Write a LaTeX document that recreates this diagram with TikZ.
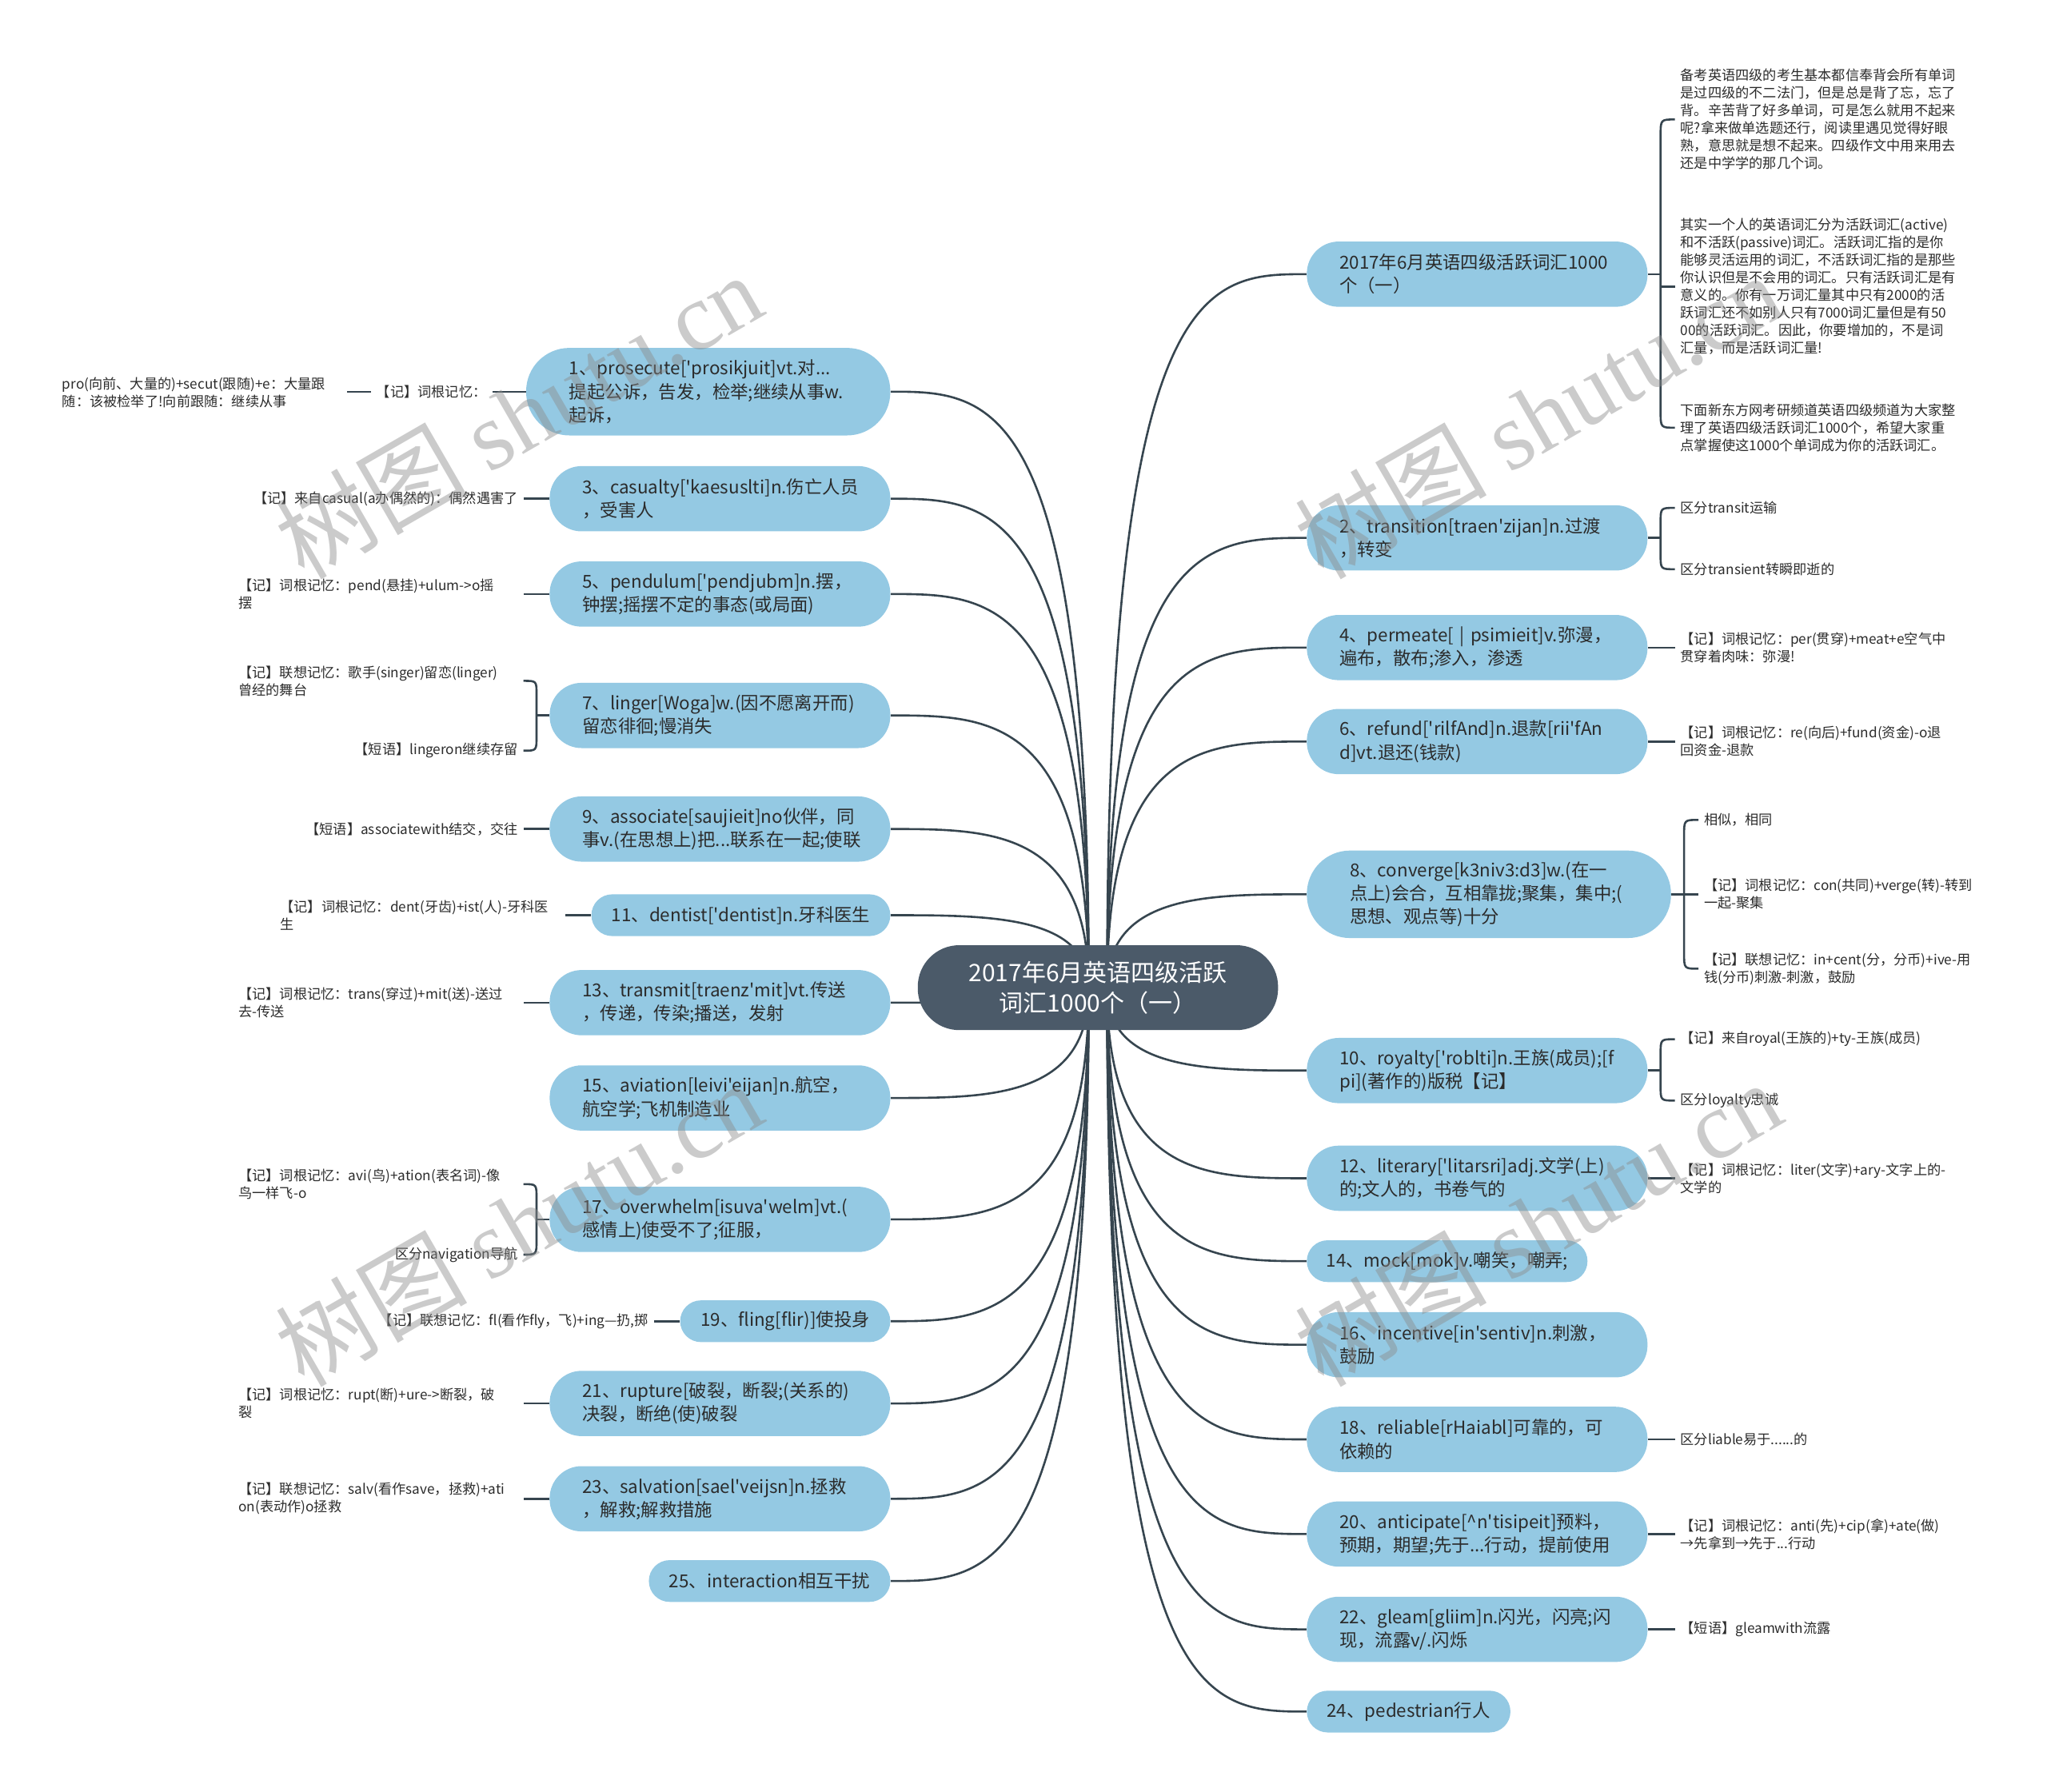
\documentclass[tikz,border=0pt]{standalone}
\usepackage{fontspec}
\setmainfont[Ligatures=TeXOff]{Noto Sans CJK SC}
\newfontfamily\wmlatin{Liberation Serif}
\usetikzlibrary{calc}
\definecolor{nodeblue}{HTML}{94C9E3}
\definecolor{hubfill}{HTML}{4B5A69}
\definecolor{linecol}{HTML}{36454F}
\definecolor{txtcol}{HTML}{2B2B2B}
\pgfdeclarelayer{bg}
\pgfsetlayers{bg,main}
\tikzset{
  hub/.style={fill=hubfill, text=white, rounded corners=26pt, minimum width=225.3pt, minimum height=53.1pt, align=center, inner sep=0pt, font=\fontsize{15pt}{19pt}\selectfont},
  leaf/.style={fill=nodeblue, text=txtcol, inner ysep=0pt, font=\fontsize{11.2pt}{14.6pt}\selectfont},
  two/.style={leaf, text width=172.2pt, inner xsep=20.4pt, align=left, minimum height=40.8pt, rounded corners=20pt},
  three/.style={leaf, text width=173.9pt, inner xsep=26.9pt, align=left, minimum height=54.7pt, rounded corners=27pt},
  one/.style={leaf, minimum height=26.1pt, rounded corners=13pt, inner xsep=0pt, minimum width=#1},
  note/.style={text=txtcol, inner xsep=3.3pt, inner ysep=1pt, align=left, font=\fontsize{8.6pt}{11pt}\selectfont},
  wrapnote/.style={note, text width=174.7pt},
  conn/.style={draw=linecol, line width=1.3pt},
  hubconn/.style={conn, to path={let \p1=(\tikztostart), \p2=(\tikztotarget) in .. controls (\x1,\y2) and ($(\x1,\y2)!0.5!(\x2,\y2)$) .. (\tikztotarget)}},
  wm/.style={text=black!45, opacity=0.45, rotate=30, inner sep=0pt, font=\fontsize{60pt}{60pt}\selectfont},
}
\begin{document}
\exhyphenpenalty=10000
\hyphenpenalty=10000
\begin{tikzpicture}[x=0.8163pt, y=-0.8163pt]
\useasboundingbox (0,0) rectangle (1568,1372.6);

% hub
\node[hub] (c) at (841,756.5) {2017年6月英语四级活跃\\词汇1000个（一）};
\coordinate (hubR) at (848,757);
\coordinate (hubL) at (834,757);

% right main nodes
\node[two] (R1) at (1131.5,210) {2017年6月英语四级活跃词汇1000\\个（一）};
\node[two] (R2) at (1131.5,412) {2、transition[traen'zijan]n.过渡\\，转变};
\node[two] (R4) at (1131.5,496) {4、permeate[~|~psimieit]v.弥漫，\\遍布，散布;渗入，渗透};
\node[two] (R6) at (1131.5,568) {6、refund['rilfAnd]n.退款[rii'fAn\\d]vt.退还(钱款)};
\node[three] (R8) at (1140.5,685) {8、converge[k3niv3:d3]w.(在一\\点上)会合，互相靠拢;聚集，集中;(\\思想、观点等)十分};
\node[two] (R10) at (1131.5,820) {10、royalty['roblti]n.王族(成员);[f\\pi](著作的)版税【记】};
\node[two] (R12) at (1131.5,902.5) {12、literary['litarsri]adj.文学(上)\\的;文人的，书卷气的};
\node[one=175.5pt] (R14) at (1108.5,966) {14、mock[mok]v.嘲笑，嘲弄;};
\node[two] (R16) at (1131.5,1030) {16、incentive[in'sentiv]n.刺激，\\鼓励};
\node[two] (R18) at (1131.5,1102.5) {18、reliable[rHaiabl]可靠的，可\\依赖的};
\node[two] (R20) at (1131.5,1175) {20、anticipate[\^{}n'tisipeit]预料，\\预期，期望;先于...行动，提前使用};
\node[two] (R22) at (1131.5,1248) {22、gleam[gliim]n.闪光，闪亮;闪\\现，流露v/.闪烁};
\node[one=127.3pt] (R24) at (1079,1311) {24、pedestrian行人};

% left main nodes
\node[three] (L1) at (542.5,300) {1、prosecute['prosikjuit]vt.对...\\提起公诉，告发，检举;继续从事w.\\起诉，};
\node[two] (L3) at (551.5,382) {3、casualty['kaesuslti]n.伤亡人员\\，受害人};
\node[two] (L5) at (551.5,455) {5、pendulum['pendjubm]n.摆，\\钟摆;摇摆不定的事态(或局面)};
\node[two] (L7) at (551.5,548) {7、linger[Woga]w.(因不愿离开而)\\留恋徘徊;慢消失};
\node[two] (L9) at (551.5,635) {9、associate[saujieit]no伙伴，同\\事v.(在思想上)把...联系在一起;使联};
\node[one=186.9pt] (L11) at (567.5,701) {11、dentist['dentist]n.牙科医生};
\node[two] (L13) at (551.5,768) {13、transmit[traenz'mit]vt.传送\\，传递，传染;播送，发射};
\node[two] (L15) at (551.5,841) {15、aviation[leivi'eijan]n.航空，\\航空学;飞机制造业};
\node[two] (L17) at (551.5,934) {17、overwhelm[isuva'welm]vt.(\\感情上)使受不了;征服，};
\node[one=131.4pt] (L19) at (601.5,1012) {19、fling[flir)]使投身};
\node[two] (L21) at (551.5,1075) {21、rupture[破裂，断裂;(关系的)\\决裂，断绝(使)破裂};
\node[two] (L23) at (551.5,1148) {23、salvation[sael'veijsn]n.拯救\\，解救;解救措施};
\node[one=151pt] (L25) at (589.5,1211) {25、interaction相互干扰};

% hub connectors
\begin{pgfonlayer}{bg}
\foreach \nd in {R1,R2,R4,R6,R8,R10,R12,R14,R16,R18,R20,R22,R24}
  \draw[hubconn] (hubR) to (\nd.west);
\foreach \nd in {L1,L3,L5,L7,L9,L11,L13,L15,L17,L19,L21,L23,L25}
  \draw[hubconn] (hubL) to (\nd.east);
\end{pgfonlayer}

% right notes
\node[note, anchor=west] (R1a) at (1283,91.5) {备考英语四级的考生基本都信奉背会所有单词\\是过四级的不二法门，但是总是背了忘，忘了\\背。辛苦背了好多单词，可是怎么就用不起来\\呢?拿来做单选题还行，阅读里遇见觉得好眼\\熟，意思就是想不起来。四级作文中用来用去\\还是中学学的那几个词。};
\node[note, anchor=west] (R1b) at (1283,219.5) {其实一个人的英语词汇分为活跃词汇(active)\\和不活跃(passive)词汇。活跃词汇指的是你\\能够灵活运用的词汇，不活跃词汇指的是那些\\你认识但是不会用的词汇。只有活跃词汇是有\\意义的。你有一万词汇量其中只有2000的活\\跃词汇还不如别人只有7000词汇量但是有50\\00的活跃词汇。因此，你要增加的，不是词\\汇量，而是活跃词汇量!};
\node[note, anchor=west] (R1c) at (1283,327.6) {下面新东方网考研频道英语四级频道为大家整\\理了英语四级活跃词汇1000个，希望大家重\\点掌握使这1000个单词成为你的活跃词汇。};
\node[note, anchor=west] (R2a) at (1283,389) {区分transit运输};
\node[note, anchor=west] (R2b) at (1283,436) {区分transient转瞬即逝的};
\node[note, anchor=west] (R4a) at (1283,496) {【记】词根记忆：per(贯穿)+meat+e空气中\\贯穿着肉味：弥漫!};
\node[note, anchor=west] (R6a) at (1283,568) {【记】词根记忆：re(向后)+fund(资金)-o退\\回资金-退款};
\node[note, anchor=west] (R8a) at (1301,628) {相似，相同};
\node[note, anchor=west] (R8b) at (1301,685) {【记】词根记忆：con(共同)+verge(转)-转到\\一起-聚集};
\node[note, anchor=west] (R8c) at (1301,742) {【记】联想记忆：in+cent(分，分币)+ive-用\\钱(分币)刺激-刺激，鼓励};
\node[note, anchor=west] (R10a) at (1283,796) {【记】来自royal(王族的)+ty-王族(成员)};
\node[note, anchor=west] (R10b) at (1283,843) {区分loyalty忠诚};
\node[note, anchor=west] (R12a) at (1283,902.5) {【记】词根记忆：liter(文字)+ary-文字上的-\\文学的};
\node[note, anchor=west] (R18a) at (1283,1102.5) {区分liable易于......的};
\node[note, anchor=west] (R20a) at (1283,1175) {【记】词根记忆：anti(先)+cip(拿)+ate(做)\\→先拿到→先于...行动};
\node[note, anchor=west] (R22a) at (1283,1248) {【短语】gleamwith流露};

% left notes
\node[note, anchor=east] (L1a) at (377,300) {【记】词根记忆：};
\node[wrapnote, anchor=east] (L1aa) at (266,301) {pro(向前、大量的)+secut(跟随)+e：大量跟\\随：该被检举了!向前跟随：继续从事};
\node[note, anchor=east] (L3a) at (401,382) {【记】来自casual(a办偶然的)：偶然遇害了};
\node[wrapnote, anchor=east] (L5a) at (401,455) {【记】词根记忆：pend(悬挂)+ulum->o摇\\摆};
\node[wrapnote, anchor=east] (L7a) at (401,521.5) {【记】联想记忆：歌手(singer)留恋(linger)\\曾经的舞台};
\node[note, anchor=east] (L7b) at (401,575) {【短语】lingeron继续存留};
\node[note, anchor=east] (L9a) at (401,635) {【短语】associatewith结交，交往};
\node[wrapnote, anchor=east] (L11a) at (433,701) {【记】词根记忆：dent(牙齿)+ist(人)-牙科医\\生};
\node[wrapnote, anchor=east] (L13a) at (401,768) {【记】词根记忆：trans(穿过)+mit(送)-送过\\去-传送};
\node[wrapnote, anchor=east] (L17a) at (401,907) {【记】词根记忆：avi(鸟)+ation(表名词)-像\\鸟一样飞-o};
\node[note, anchor=east] (L17b) at (401,961) {区分navigation导航};
\node[note, anchor=east] (L19a) at (501,1012) {【记】联想记忆：fl(看作fly，飞)+ing—扔,掷};
\node[wrapnote, anchor=east] (L21a) at (401,1075) {【记】词根记忆：rupt(断)+ure->断裂，破\\裂};
\node[wrapnote, anchor=east] (L23a) at (401,1148) {【记】联想记忆：salv(看作save，拯救)+ati\\on(表动作)o拯救};

% right note connectors
\draw[conn] (R1.east) -- (1272,210);
\draw[conn] (R1a.west) .. controls (1272,91.5) .. (1272,104) -- (1272,315) .. controls (1272,327.6) .. (R1c.west);
\draw[conn] (1272,219.5) -- (R1b.west);
\draw[conn] (R2.east) -- (1272,412);
\draw[conn] (R2a.west) .. controls (1272,389) .. (1272,400) -- (1272,425) .. controls (1272,436) .. (R2b.west);
\draw[conn] (R4.east) -- (R4a.west);
\draw[conn] (R6.east) -- (R6a.west);
\draw[conn] (R8.east) -- (R8b.west);
\draw[conn] (R8a.west) .. controls (1290,628) .. (1290,640) -- (1290,730) .. controls (1290,742) .. (R8c.west);
\draw[conn] (R10.east) -- (1272,820);
\draw[conn] (R10a.west) .. controls (1272,796) .. (1272,807) -- (1272,832) .. controls (1272,843) .. (R10b.west);
\draw[conn] (R12.east) -- (R12a.west);
\draw[conn] (R18.east) -- (R18a.west);
\draw[conn] (R20.east) -- (R20a.west);
\draw[conn] (R22.east) -- (R22a.west);

% left note connectors
\draw[conn] (L1.west) -- (L1a.east);
\draw[conn] (L1a.west) -- (L1aa.east |- L1a.west);
\draw[conn] (L3.west) -- (L3a.east);
\draw[conn] (L5.west) -- (L5a.east);
\draw[conn] (L7.west) -- (411,548);
\draw[conn] (L7a.east) .. controls (411,521.5) .. (411,532) -- (411,564) .. controls (411,575) .. (L7b.east);
\draw[conn] (L9.west) -- (L9a.east);
\draw[conn] (L11.west) -- (L11a.east);
\draw[conn] (L13.west) -- (L13a.east);
\draw[conn] (L17.west) -- (411,934);
\draw[conn] (L17a.east) .. controls (411,907) .. (411,918) -- (411,950) .. controls (411,961) .. (L17b.east);
\draw[conn] (L19.west) -- (L19a.east);
\draw[conn] (L21.west) -- (L21a.east);
\draw[conn] (L23.west) -- (L23a.east);

% watermarks
\node[wm] (wm1) at (397,318) {树图 {\wmlatin shutu.cn}};
\node[wm] (wm2) at (1178,318) {树图 {\wmlatin shutu.cn}};
\node[wm] (wm3) at (397,937) {树图 {\wmlatin shutu.cn}};
\node[wm] (wm4) at (1178,937) {树图 {\wmlatin shutu.cn}};
\end{tikzpicture}
\end{document}
